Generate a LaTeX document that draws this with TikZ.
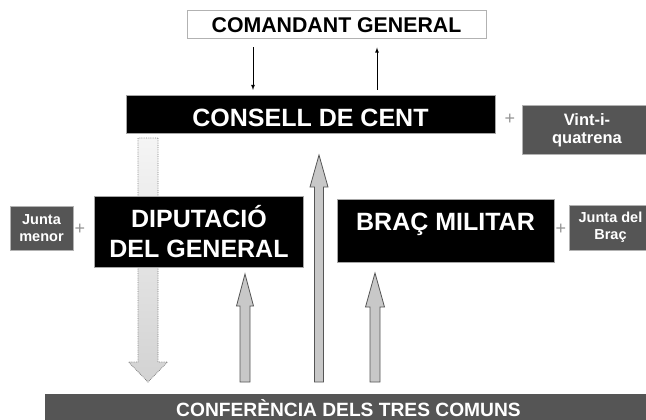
\documentclass[tikz,border=0pt]{standalone}
\usepackage{fontspec}
\setmainfont{Liberation Sans}
\usetikzlibrary{calc}

\definecolor{darkgrey}{HTML}{555555}
\definecolor{lightgrey}{HTML}{C8C8C8}

% fat arrow: style, from, to, shaft half width, head half width, head length
\newcommand{\fatarrow}[6]{%
	\coordinate (neck) at ($(#3)!#6!(#2)$);
	\draw[#1] ($(#2)!#4!90:(#3)$) -- ($(neck)!#4!90:(#3)$) -- ($(neck)!#5!90:(#3)$)
		-- (#3) -- ($(neck)!#5!-90:(#3)$) -- ($(neck)!#4!-90:(#3)$) -- ($(#2)!#4!-90:(#3)$) -- cycle;
}

\begin{document}
\begin{tikzpicture}[x=1pt,y=-1pt,>=latex,
	every node/.style={inner sep=0pt},
	blackbox/.style={draw=gray!70,line width=1pt,fill=black,text=white,font=\bfseries\fontsize{25}{30}\selectfont,align=center},
	greybox/.style={draw=gray!60,line width=1pt,fill=darkgrey,text=white,align=center},
	plus/.style={text=gray!85,font=\fontsize{18}{18}\selectfont},
	thinarrow/.style={->,line width=0.8pt},
	liftarrow/.style={draw=darkgrey,line width=0.8pt,fill=lightgrey},
	droparrow/.style={draw=gray,densely dotted,line width=0.8pt,top color=gray!8,bottom color=gray!35}]
	
	\useasboundingbox (0,0) rectangle (646,420);
	
	% arrows behind the boxes
	\coordinate (drop-s) at (148,138);
	\coordinate (drop-e) at (148,382);
	\coordinate (lift1-s) at (245,382);
	\coordinate (lift1-e) at (245,274);
	\coordinate (lift2-s) at (319,382);
	\coordinate (lift2-e) at (319,155);
	\coordinate (lift3-s) at (375,382);
	\coordinate (lift3-e) at (375,273);
	\fatarrow{droparrow}{drop-s}{drop-e}{10pt}{19.5pt}{20pt}
	\fatarrow{liftarrow}{lift1-s}{lift1-e}{5pt}{8.5pt}{32pt}
	\fatarrow{liftarrow}{lift2-s}{lift2-e}{4.5pt}{9pt}{32pt}
	\fatarrow{liftarrow}{lift3-s}{lift3-e}{5pt}{9.5pt}{34pt}
	
	\node[draw=gray!60,line width=1pt,fill=white,minimum width=299,minimum height=28,
		font=\bfseries\fontsize{21.3}{24}\selectfont] (cmd) at (336.5,25) {COMANDANT GENERAL};
	\node[blackbox,minimum width=369,minimum height=38,text height=23pt,text depth=0pt] (consell) at (310.5,114.5) {CONSELL DE CENT};
	\node[blackbox,minimum width=209,minimum height=71] (diputacio) at (199,231.5) {DIPUTACIÓ\\DEL GENERAL};
	\node[blackbox,anchor=north,minimum width=217,text height=31pt,text depth=32pt] (brac) at (445.5,199) {BRAÇ MILITAR};
	
	\node[greybox,minimum width=130,minimum height=48,font=\bfseries\fontsize{16.5}{18}\selectfont] (vint) at (587,130) {Vint-i-\\quatrena};
	\node[greybox,minimum width=63,minimum height=44,font=\bfseries\fontsize{14.5}{17}\selectfont] (jmenor) at (41.5,228) {Junta\\menor};
	\node[greybox,minimum width=83,minimum height=45,font=\bfseries\fontsize{14.5}{17}\selectfont] (jbrac) at (610.5,227.5) {Junta del\\Braç};
	\node[greybox,draw=none,anchor=north,minimum width=607,text height=23pt,text depth=12pt,
		font=\bfseries\fontsize{19.2}{22}\selectfont] (conf) at (348.5,393) {CONFERÈNCIA DELS TRES COMUNS};
	
	\node[plus] (p1) at (510,119) {+};
	\node[plus] (p2) at (80,229) {+};
	\node[plus] (p3) at (561,229) {+};
	
	\coordinate (down) at (253,0);
	\coordinate (up) at (377,0);
	\draw[thinarrow,shorten <=8pt,shorten >=5pt] (cmd.south -| down) -- (consell.north -| down);
	\draw[thinarrow,shorten <=5pt,shorten >=8pt] (consell.north -| up) -- (cmd.south -| up);
\end{tikzpicture}
\end{document}
